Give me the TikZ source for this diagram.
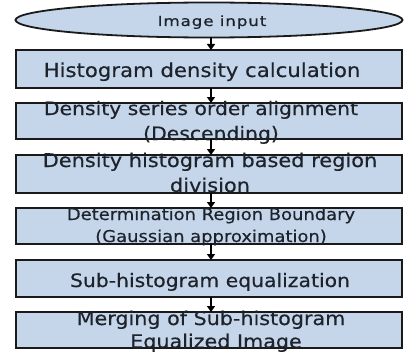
\documentclass[tikz,border=0pt]{standalone}
\usepackage{fontspec}
\setmainfont{DejaVu Sans}
\newfontfamily\widesans{DejaVu Sans}[FakeStretch=1.1, FakeBold=0.4]
\newfontfamily\widersans{DejaVu Sans}[FakeStretch=1.2, LetterSpace=6, FakeBold=0.6]
\usetikzlibrary{arrows.meta}
\definecolor{boxfill}{HTML}{C5D6EB}
\definecolor{edge}{HTML}{1A1A1A}
\definecolor{txt}{HTML}{1E232B}
\tikzset{
  flowbox/.style={draw=edge, line width=2pt, fill=boxfill},
  lbl/.style={inner sep=0pt, anchor=base, text=txt},
  flowarrow/.style={-{Triangle[width=8pt,length=6pt]}, line width=2pt, black},
}
\begin{document}
\begin{tikzpicture}[x=1pt,y=-1pt]
\useasboundingbox (0,0) rectangle (404,353);
% ellipse
\draw[flowbox, line width=1.8pt] (209,20) ellipse [x radius=193.5, y radius=17.5];
\node[lbl, font=\widersans\fontsize{14}{16}\selectfont] (n0) at (212,26) {Image input};
\coordinate (e0) at (211,37.5);
% boxes
\draw[flowbox] (16,50) rectangle (402,88);
\coordinate (b1t) at (211,50); \coordinate (b1b) at (211,88);
\node[lbl, font=\widesans\fontsize{19.3}{22}\selectfont] (n1) at (202,77) {Histogram density calculation};

\draw[flowbox] (16,103) rectangle (402,139);
\coordinate (b2t) at (211,103); \coordinate (b2b) at (211,139);
\node[lbl, font=\widesans\fontsize{18.5}{22}\selectfont] (n2a) at (201,115) {Density series order alignment};
\node[lbl, font=\widesans\fontsize{18.5}{22}\selectfont] (n2b) at (211,140) {(Descending)};

\draw[flowbox] (16,155) rectangle (402,193);
\coordinate (b3t) at (211,155); \coordinate (b3b) at (211,193);
\node[lbl, font=\widesans\fontsize{19}{22}\selectfont] (n3a) at (210,167) {Density histogram based region};
\node[lbl, font=\widesans\fontsize{19}{22}\selectfont] (n3b) at (210,192) {division};

\draw[flowbox] (16,208) rectangle (402,244);
\coordinate (b4t) at (211,208); \coordinate (b4b) at (211,244);
\node[lbl, font=\widesans\fontsize{16.3}{20}\selectfont] (n4a) at (211,220) {Determination Region Boundary};
\node[lbl, font=\widesans\fontsize{16.3}{20}\selectfont] (n4b) at (211,242) {(Gaussian approximation)};

\draw[flowbox] (16,260) rectangle (402,297);
\coordinate (b5t) at (211,260); \coordinate (b5b) at (211,297);
\node[lbl, font=\widesans\fontsize{18.5}{22}\selectfont] (n5) at (210,287) {Sub-histogram equalization};

\draw[flowbox] (16,312) rectangle (402,348);
\coordinate (b6t) at (211,312);
\node[lbl, font=\widesans\fontsize{18.8}{22}\selectfont] (n6a) at (211,325) {Merging of Sub-histogram};
\node[lbl, font=\widesans\fontsize{18.8}{22}\selectfont] (n6b) at (216,348) {Equalized Image};

\draw[flowarrow] (e0) -- (b1t);
\draw[flowarrow] (b1b) -- (b2t);
\draw[flowarrow] (b2b) -- (b3t);
\draw[flowarrow] (b3b) -- (b4t);
\draw[flowarrow] (b4b) -- (b5t);
\draw[flowarrow] (b5b) -- (b6t);
\end{tikzpicture}
\end{document}
